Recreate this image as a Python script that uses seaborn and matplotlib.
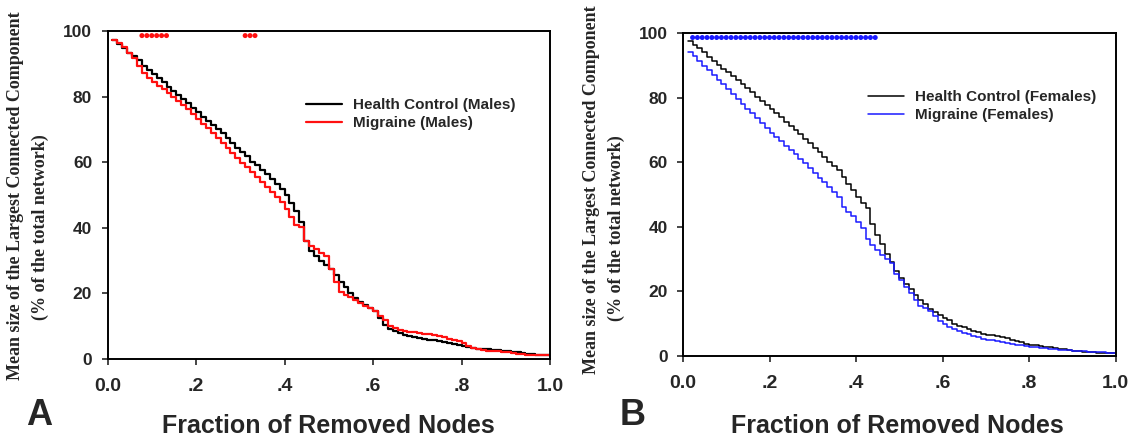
import numpy as np
import seaborn as sns
import matplotlib
matplotlib.use("Agg")
import matplotlib.pyplot as plt

# fraction of removed nodes: one step per node (90 regions)
n_nodes = 90
removed = np.arange(1, n_nodes + 1) / n_nodes

# panel A - males
hc_males = [97.3, 96.0, 94.7, 93.4, 92.3, 91.1, 89.4, 88.2, 86.9, 85.6,
            84.3, 82.9, 81.6, 80.4, 79.2, 77.9, 76.6, 75.2, 73.9, 72.6,
            71.4, 70.2, 68.8, 67.4, 65.9, 64.4, 63.1, 61.8, 60.2, 59.0,
            57.6, 56.3, 55.0, 53.5, 51.8, 50.0, 47.6, 45.1, 41.8, 36.0,
            33.0, 31.5, 30.0, 28.6, 27.3, 25.5, 23.6, 21.8, 20.0, 18.6,
            17.5, 16.4, 15.4, 14.5, 12.5, 10.3, 9.0, 8.4, 7.9, 7.4,
            7.0, 6.7, 6.4, 6.1, 5.9, 5.7, 5.4, 5.2, 5.0, 4.7,
            4.3, 4.0, 3.7, 3.4, 3.2, 3.0, 2.9, 2.8, 2.6, 2.5,
            2.3, 2.2, 2.0, 1.7, 1.5, 1.4, 1.3, 1.2, 1.1, 1.0]
mig_males = [97.3, 96.2, 95.0, 93.4, 91.7, 89.3, 87.2, 85.8, 84.5, 83.3,
             82.3, 81.2, 80.0, 78.7, 77.4, 76.1, 74.7, 73.1, 71.7, 70.3,
             68.8, 67.3, 65.9, 64.4, 62.8, 61.3, 59.9, 58.4, 57.0, 55.6,
             54.0, 52.4, 51.0, 49.5, 47.9, 45.6, 43.3, 40.9, 40.3, 36.0,
             34.4, 33.4, 32.4, 31.5, 27.5, 23.5, 20.5, 19.6, 18.8, 18.1,
             17.2, 16.3, 15.4, 14.5, 13.2, 11.8, 10.2, 9.3, 8.9, 8.6,
             8.3, 8.1, 7.9, 7.7, 7.5, 7.3, 7.0, 6.6, 6.2, 5.8,
             5.4, 4.9, 4.0, 3.4, 2.9, 2.7, 2.5, 2.4, 2.3, 2.1,
             2.0, 1.8, 1.6, 1.4, 1.3, 1.3, 1.2, 1.1, 1.1, 1.0]

# panel B - females
hc_females = [97.5, 96.4, 95.3, 94.0, 92.6, 91.4, 90.2, 89.0, 87.8, 86.7,
              85.5, 84.2, 82.9, 81.6, 80.2, 79.0, 77.8, 76.5, 75.2, 73.9,
              72.6, 71.3, 70.1, 68.6, 67.1, 65.8, 64.5, 63.1, 61.7, 60.2,
              58.9, 57.6, 55.5, 53.4, 51.3, 49.3, 47.5, 45.8, 41.0, 37.5,
              34.6, 31.6, 29.0, 26.2, 24.2, 22.3, 20.8, 18.8, 17.4, 16.0,
              14.6, 13.6, 12.7, 11.9, 11.0, 10.0, 9.4, 8.9, 8.3, 7.8,
              7.3, 6.9, 6.6, 6.4, 6.2, 6.0, 5.6, 5.1, 4.6, 4.2,
              3.8, 3.5, 3.3, 3.1, 2.9, 2.7, 2.5, 2.3, 2.1, 1.9,
              1.7, 1.5, 1.3, 1.2, 1.1, 1.0, 1.0, 1.0, 1.0, 1.0]
mig_females = [94.2, 92.9, 91.3, 89.8, 88.4, 86.9, 85.5, 84.1, 82.6, 81.1,
               79.6, 78.0, 76.6, 75.1, 73.6, 72.1, 70.6, 69.1, 67.8, 66.5,
               65.1, 63.8, 62.4, 61.0, 59.6, 58.1, 56.6, 55.2, 53.8, 52.3,
               50.8, 49.3, 46.0, 44.6, 43.3, 41.6, 39.6, 36.2, 34.4, 32.8,
               31.3, 30.0, 28.7, 25.4, 23.5, 21.5, 19.4, 17.3, 15.6, 14.8,
               14.0, 12.5, 10.9, 9.8, 9.1, 8.3, 7.8, 7.2, 6.7, 6.2,
               5.8, 5.4, 5.1, 4.8, 4.5, 4.2, 3.9, 3.7, 3.5, 3.3,
               3.1, 2.9, 2.8, 2.6, 2.5, 2.3, 2.2, 2.0, 1.9, 1.8,
               1.6, 1.5, 1.4, 1.3, 1.2, 1.2, 1.1, 1.0, 1.0, 1.0]

# nodes (1-based) where the groups differ significantly
sig_nodes_males = [7, 8, 9, 10, 11, 12, 28, 29, 30]
sig_nodes_females = list(range(2, 41))
sig_level = 98.6

x_ticks = [0.0, 0.2, 0.4, 0.6, 0.8, 1.0]
x_ticklabels = ["0.0", ".2", ".4", ".6", ".8", "1.0"]
y_ticks = [0, 20, 40, 60, 80, 100]

sns.set_style("ticks")
plt.rcParams["font.family"] = ["Liberation Sans", "DejaVu Sans"]
plt.rcParams["font.weight"] = "bold"

fig = plt.figure(figsize=(11.3, 4.38), dpi=100)
W, H = 1130, 438


def px_axes(l, r, t, b):
    return fig.add_axes([l / W, (H - b) / H, (r - l) / W, (b - t) / H])


panels = [
    dict(ax=px_axes(107.5, 550, 31, 359), hc=hc_males, mig=mig_males, color="#ff1010",
         lw=1.6, sig=sig_nodes_males, labels=["Health Control (Males)", "Migraine (Males)"],
         letter="A", letter_x=26, xlab_x=328, yl1=(15.5, 196), yl2=(40, 227),
         leg=(0.448, 0.796)),
    dict(ax=px_axes(683, 1115.5, 33, 356), hc=hc_females, mig=mig_females, color="#1a1aff",
         lw=1.1, sig=sig_nodes_females, labels=["Health Control (Females)", "Migraine (Females)"],
         letter="B", letter_x=620, xlab_x=897, yl1=(592, 190), yl2=(616, 228),
         leg=(0.427, 0.824)),
]

for p in panels:
    ax = p["ax"]
    sns.lineplot(x=removed, y=p["hc"], ax=ax, color="black", lw=p["lw"],
                 drawstyle="steps-post", label=p["labels"][0])
    sns.lineplot(x=removed, y=p["mig"], ax=ax, color=p["color"], lw=p["lw"],
                 drawstyle="steps-post", label=p["labels"][1])
    sig_x = removed[np.array(p["sig"]) - 1]
    sns.scatterplot(x=sig_x, y=[sig_level] * len(sig_x), ax=ax, color=p["color"],
                    s=13, edgecolor="none", legend=False)

    ax.set_xlim(0, 1)
    ax.set_ylim(0, 100)
    ax.set_xticks(x_ticks)
    ax.set_xticklabels(x_ticklabels, fontsize=14, fontweight="bold")
    ax.set_yticks(y_ticks)
    ax.set_yticklabels([str(v) for v in y_ticks], fontsize=12.5, fontweight="bold")
    ax.tick_params(axis="x", direction="out", length=4, width=1.2, pad=10)
    ax.tick_params(axis="y", direction="out", length=4, width=1.2, pad=7)
    for s in ax.spines.values():
        s.set_visible(True)
        s.set_linewidth(1.4)
        s.set_color("black")
    ax.set_xlabel("")
    ax.set_ylabel("")

    leg = ax.legend(loc="upper left", bbox_to_anchor=p["leg"], frameon=False,
                    prop={"size": 11, "weight": "bold"}, handlelength=2.4,
                    handletextpad=0.7, labelspacing=0.3, borderpad=0, borderaxespad=0)

    fig.text(p["yl1"][0] / W, 1 - p["yl1"][1] / H,
             "Mean size of the Largest Connected Component", rotation=90,
             ha="center", va="center", fontsize=13, fontweight="bold",
             family=["Liberation Serif", "DejaVu Serif"])
    fig.text(p["yl2"][0] / W, 1 - p["yl2"][1] / H, "(% of the total network)",
             rotation=90, ha="center", va="center", fontsize=13, fontweight="bold",
             family=["Liberation Serif", "DejaVu Serif"])
    fig.text(p["xlab_x"] / W, 1 - 433 / H, "Fraction of Removed Nodes",
             ha="center", va="baseline", fontsize=18, fontweight="bold")
    fig.text(p["letter_x"] / W, 1 - 425 / H, p["letter"], ha="left",
             va="baseline", fontsize=26, fontweight="bold")

fig.savefig("out.png", dpi=100)
